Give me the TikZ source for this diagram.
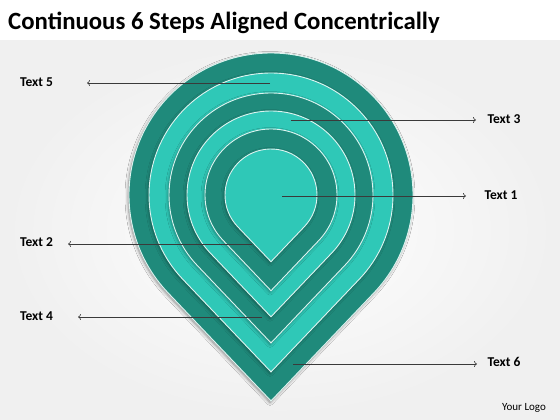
\documentclass[tikz,border=0pt]{standalone}
\usepackage{fontspec}
\setmainfont{Carlito}
\usetikzlibrary{arrows.meta,shadows.blur}
\definecolor{darkteal}{HTML}{1F8A7B}
\definecolor{lightteal}{HTML}{2FC8B7}
\definecolor{edgeline}{HTML}{DDF4F0}
\definecolor{linegray}{HTML}{3A3A3A}
\newcommand{\pinshape}[5]{% cx cy r fill shadowopacity
  \fill[#4, draw=edgeline, line width=0.9pt,
        blur shadow={shadow xshift=-1pt, shadow yshift=-1.5pt, shadow blur radius=3pt, shadow blur steps=6, shadow opacity=#5}]
    ({#1}, {#2+1.45*#3}) -- ({#1+#3*cos(43.6)},{#2+#3*sin(43.6)})
    arc[start angle=43.6, end angle=-223.6, radius=#3] -- cycle;}
\tikzset{
  lbl/.style={font=\fontsize{13.5}{15}\selectfont\bfseries, text=black, inner sep=0pt},
  conn/.style={draw=linegray, line width=0.6pt, -{To[length=3pt,width=6pt]}},
}
\begin{document}
\begin{tikzpicture}[x=1pt,y=-1pt]
\useasboundingbox (0,0) rectangle (560,420);
\fill[white] (0,0) rectangle (560,420);
\shade[inner color=white, outer color=black!6] (0,40) rectangle (560,420);
\fill[white] (0,0) rectangle (560,40);

\node[font=\fontsize{24.8}{28}\selectfont\bfseries, anchor=base west, inner sep=0pt] (title) at (8,30) {Continuous 6 Steps Aligned Concentrically};

\pinshape{271}{195}{142}{darkteal}{45}
\pinshape{271}{195}{122}{lightteal}{35}
\pinshape{271}{195}{102}{darkteal}{35}
\pinshape{271}{195}{84}{lightteal}{35}
\pinshape{271}{195}{66}{darkteal}{35}
\pinshape{271}{195}{46}{lightteal}{35}

\node[lbl] (t5) at (36.5,82) {Text 5};
\node[lbl] (t3) at (504,119) {Text 3};
\node[lbl] (t1) at (501,195) {Text 1};
\node[lbl] (t2) at (36.5,242) {Text 2};
\node[lbl] (t4) at (36.5,316) {Text 4};
\node[lbl] (t6) at (504,362) {Text 6};
\node[font=\fontsize{11}{13}\selectfont, inner sep=0pt] (logo) at (524,408) {Your Logo};

\coordinate (s5) at (270,83);  \coordinate (e5) at (87,83);
\coordinate (s3) at (291,120); \coordinate (e3) at (476,120);
\coordinate (s1) at (282,196); \coordinate (e1) at (466,196);
\coordinate (s2) at (252,244); \coordinate (e2) at (68,244);
\coordinate (s4) at (262,317); \coordinate (e4) at (78,317);
\coordinate (s6) at (293,364); \coordinate (e6) at (477,364);

\draw[conn] (s5) -- (e5);
\draw[conn] (s3) -- (e3);
\draw[conn] (s1) -- (e1);
\draw[conn] (s2) -- (e2);
\draw[conn] (s4) -- (e4);
\draw[conn] (s6) -- (e6);
\end{tikzpicture}
\end{document}
